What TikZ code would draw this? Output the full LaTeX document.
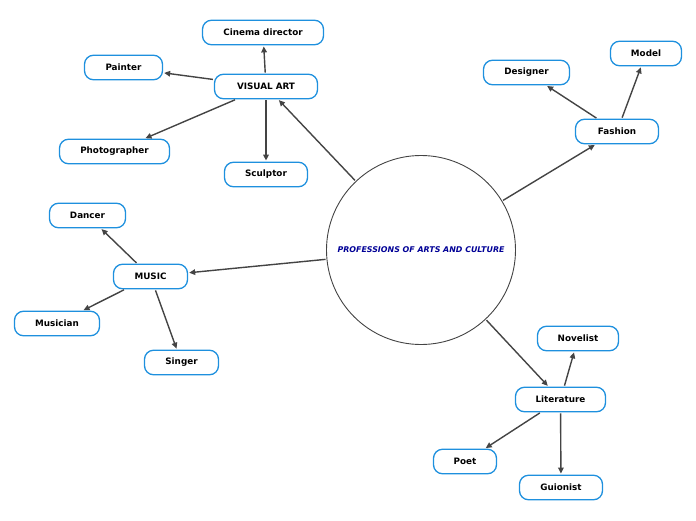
\documentclass[tikz,border=0pt]{standalone}
\usepackage{fontspec}
\setmainfont{DejaVu Sans}
\usetikzlibrary{arrows.meta}
\definecolor{boxblue}{RGB}{30,144,222}
\definecolor{linegray}{RGB}{68,68,68}
\definecolor{titleblue}{RGB}{0,0,150}
\tikzset{
  topic/.style={draw=boxblue, line width=1.3pt, rounded corners=9pt, fill=white,
    minimum height=24.5pt, inner sep=2pt, font=\fontsize{8.8}{10}\selectfont\bfseries, text=black},
  conn/.style={draw=linegray, line width=1.4pt, -{Triangle[length=6pt,width=5.5pt]},
    shorten <=1pt, shorten >=1pt}
}
\begin{document}
\begin{tikzpicture}[x=1pt,y=-1pt]
\useasboundingbox (0,0) rectangle (696,520);
\node[circle, draw=linegray, line width=0.9pt, minimum size=189pt, inner sep=0pt,
  font=\fontsize{7.9}{9}\selectfont\bfseries\itshape, text=titleblue] (c) at (421,250)
  {PROFESSIONS OF ARTS AND CULTURE};

\node[topic, minimum width=121pt] (cin) at (263,32.5) {Cinema director};
\node[topic, minimum width=103pt] (va) at (266,86.5) {VISUAL ART};
\node[topic, minimum width=78pt] (pai) at (123.5,67.5) {Painter};
\node[topic, minimum width=110pt] (pho) at (114.5,151.5) {Photographer};
\node[topic, minimum width=83pt] (scu) at (266,174.5) {Sculptor};

\node[topic, minimum width=86pt] (des) at (526.5,72.5) {Designer};
\node[topic, minimum width=71pt] (mod) at (646,53.5) {Model};
\node[topic, minimum width=83pt] (fas) at (617,131.5) {Fashion};

\node[topic, minimum width=76pt] (dan) at (87.5,215.5) {Dancer};
\node[topic, minimum width=74pt] (mus) at (150.5,276.5) {MUSIC};
\node[topic, minimum width=85pt] (musn) at (57,323.5) {Musician};
\node[topic, minimum width=74pt] (sin) at (181.5,362.5) {Singer};

\node[topic, minimum width=81pt] (nov) at (578,338.5) {Novelist};
\node[topic, minimum width=90pt] (lit) at (560.5,399.5) {Literature};
\node[topic, minimum width=63pt] (poe) at (465,461.5) {Poet};
\node[topic, minimum width=83pt] (gui) at (561,487.5) {Guionist};

\draw[conn] (c) -- (va);
\draw[conn] (c) -- (fas);
\draw[conn] (c) -- (mus);
\draw[conn] (c) -- (lit);

\draw[conn] (va) -- (cin);
\draw[conn] (va) -- (pai);
\draw[conn] (va) -- (pho);
\draw[conn] (va) -- (scu);

\draw[conn] (fas) -- (des);
\draw[conn] (fas) -- (mod);

\draw[conn] (mus) -- (dan);
\draw[conn] (mus) -- (musn);
\draw[conn] (mus) -- (sin);

\draw[conn] (lit) -- (nov);
\draw[conn] (lit) -- (poe);
\draw[conn] (lit) -- (gui);
\end{tikzpicture}
\end{document}
